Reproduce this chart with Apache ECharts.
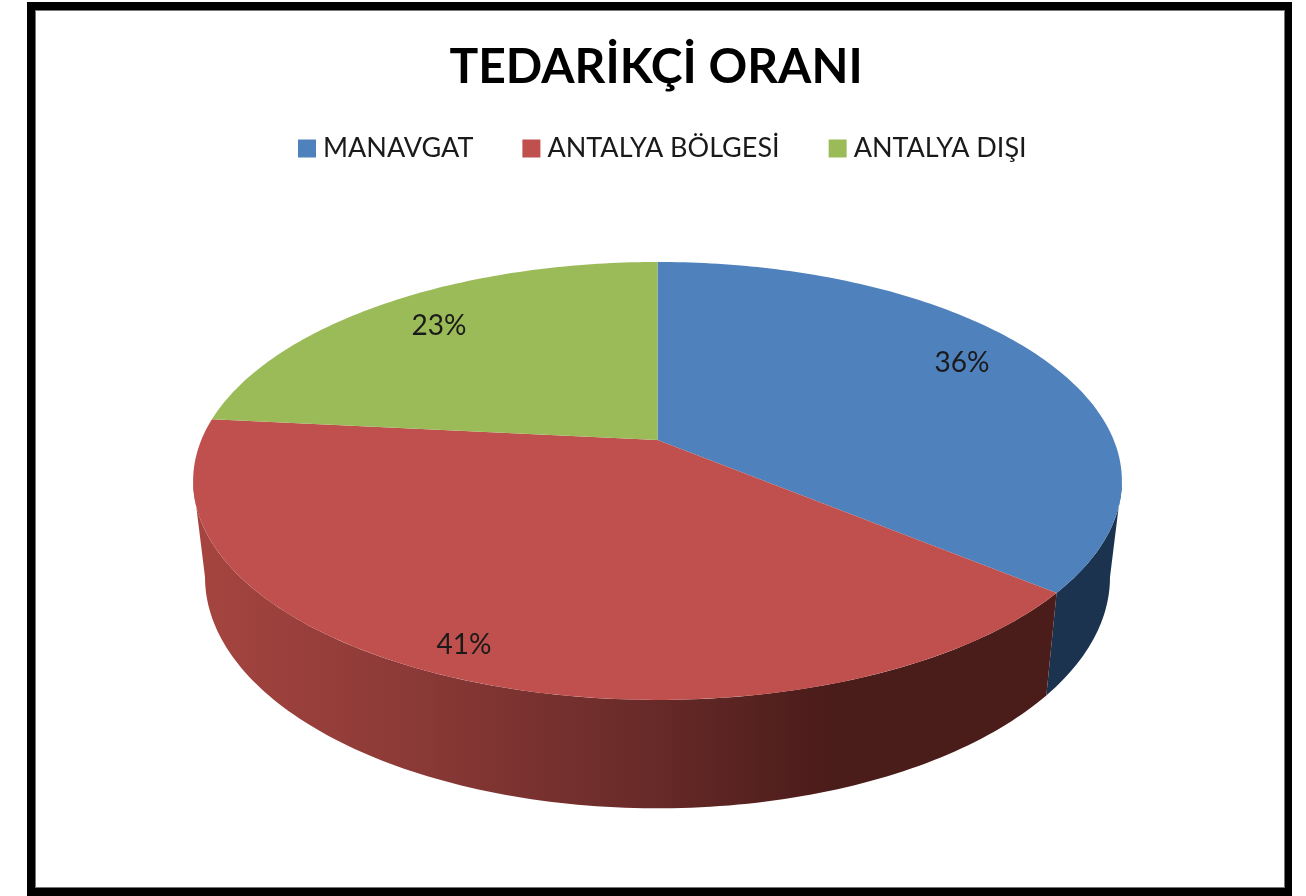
<!DOCTYPE html>
<html>
<head>
<meta charset="utf-8">
<title>TEDARİKÇİ ORANI</title>
<script src="https://cdn.jsdelivr.net/npm/echarts@6/dist/echarts.min.js"></script>
<style>
  html, body { margin: 0; padding: 0; background: #fff; }
  #chart { width: 1306px; height: 896px; }
</style>
</head>
<body>
<div id="chart"></div>
<script>
const categories = ['MANAVGAT', 'ANTALYA BÖLGESİ', 'ANTALYA DIŞI']
// read from the slice edges, the labels print them rounded
const shares = [36, 40.6, 23.4]

const topColors = ['#4F81BD', '#C0504D', '#9BBB59']
const labelCenters = [[962, 363], [464, 645], [439, 326]]

// tilted disc: a circle pushed through a perspective map
const centerX = 657.5
const perspective = 0.187
const topPlane = { y: 440, a: 456.2, b: 211.3 }
const bottomPlane = { y: 534, a: 444.5, b: 223 }

// the rim only shows between these angles (degrees from 12 o'clock, clockwise)
const rimFrom = 100.8
const rimTo = 259.2

const redRim = new echarts.graphic.LinearGradient(205, 0, 830, 0, [
  { offset: 0, color: '#A5443F' },
  { offset: 0.32, color: '#8C3A37' },
  { offset: 0.72, color: '#672A28' },
  { offset: 1, color: '#4A1C1A' }
], true)
const rimFills = ['#1C3350', redRim, '#4E6130']

const project = (plane, deg) => {
  const t = (deg * Math.PI) / 180
  const u = Math.sin(t)
  const v = -Math.cos(t)
  const d = 1 - perspective * v
  return [centerX + (plane.a * u) / d, plane.y + (plane.b * v) / d]
}

const arc = (plane, from, to) => {
  const pts = []
  const steps = Math.max(2, Math.ceil(Math.abs(to - from)))
  for (let i = 0; i <= steps; i++) {
    pts.push(project(plane, from + ((to - from) * i) / steps))
  }
  return pts
}

const total = shares.reduce((a, b) => a + b, 0)

const renderSlice = (idx) => (params, api) => {
  const before = shares.slice(0, idx).reduce((a, b) => a + b, 0)
  const start = (before / total) * 360
  const end = start + (api.value(0) / total) * 360
  const children = []

  // side wall first, top face goes over it
  const rimStart = Math.max(start, rimFrom)
  const rimEnd = Math.min(end, rimTo)
  if (rimEnd > rimStart) {
    const upper = arc(topPlane, rimStart, rimEnd)
    const lower = arc(bottomPlane, rimEnd, rimStart)
    children.push({
      type: 'polygon',
      shape: { points: upper.concat(lower) },
      style: { fill: rimFills[idx] }
    })
  }

  children.push({
    type: 'polygon',
    shape: { points: [[centerX, topPlane.y]].concat(arc(topPlane, start, end)) },
    style: { fill: topColors[idx] }
  })

  children.push({
    type: 'text',
    x: labelCenters[idx][0],
    y: labelCenters[idx][1],
    style: {
      text: Math.round(api.value(0)) + '%',
      fill: '#1A1A1A',
      font: '28px Lato',
      textAlign: 'center',
      textVerticalAlign: 'middle'
    }
  })

  return { type: 'group', children: children }
}

const chart = echarts.init(document.getElementById('chart'), null, { renderer: 'canvas' })

chart.setOption({
  animation: false,
  backgroundColor: '#fff',
  // frame of the original picture
  graphic: [
    { type: 'rect', z: 0, shape: { x: 27, y: 2, width: 1265, height: 894 }, style: { fill: '#000' } },
    { type: 'rect', z: 0, shape: { x: 35, y: 10, width: 1250, height: 878 }, style: { fill: '#777' } },
    { type: 'rect', z: 0, shape: { x: 36, y: 11, width: 1248, height: 876 }, style: { fill: '#fff' } }
  ],
  title: {
    text: 'TEDARİKÇİ ORANI',
    left: 651,
    top: 39,
    textAlign: 'center',
    textStyle: {
      fontFamily: 'Lato',
      fontWeight: 'bold',
      fontSize: 48,
      color: '#000'
    }
  },
  legend: {
    top: 130,
    left: 293,
    icon: 'rect',
    itemWidth: 18,
    itemHeight: 18,
    itemGap: 49,
    selectedMode: false,
    data: categories,
    textStyle: {
      fontFamily: 'Lato',
      fontSize: 27,
      color: '#1A1A1A',
      padding: [0, 0, 0, 2]
    }
  },
  series: categories.map((name, i) => ({
    type: 'custom',
    name: name,
    coordinateSystem: 'none',
    silent: true,
    itemStyle: { color: topColors[i] },
    renderItem: renderSlice(i),
    data: [shares[i]]
  }))
})
</script>
</body>
</html>
